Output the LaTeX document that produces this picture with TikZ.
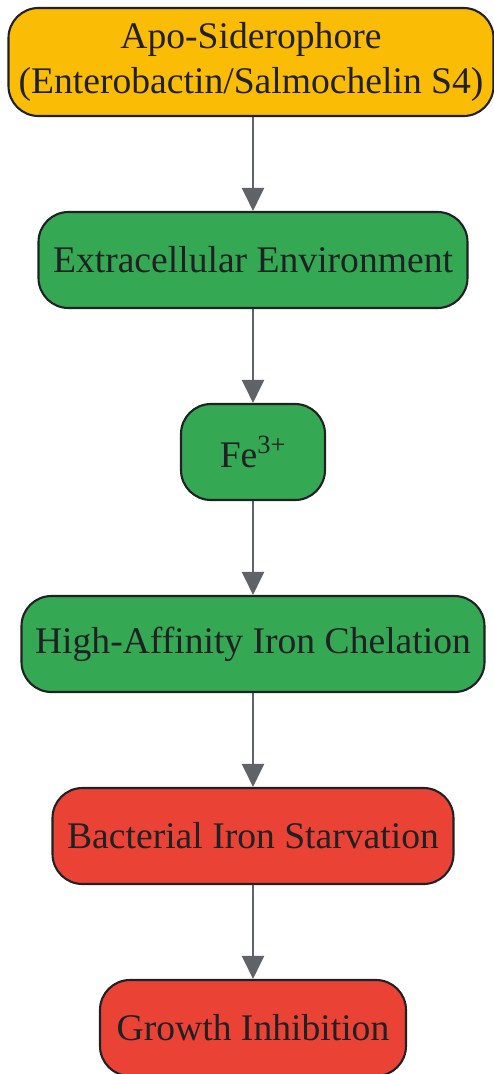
\documentclass[tikz,border=0pt]{standalone}
\usepackage{fontspec}
\setmainfont{Liberation Serif}
\usetikzlibrary{arrows.meta}
\definecolor{sideroyellow}{HTML}{FBBC05}
\definecolor{envgreen}{HTML}{34A853}
\definecolor{stressred}{HTML}{EA4335}
\definecolor{inkdark}{HTML}{202124}
\definecolor{flowgray}{HTML}{5F6368}
\tikzset{
  stage/.style={rectangle, rounded corners=0.6cm, draw=inkdark, line width=1.2pt, text=inkdark,
    align=center, inner sep=0pt, font=\fontsize{21.4}{25.5}\selectfont},
  flow/.style={-{Triangle[width=0.44cm,length=0.46cm]}, draw=flowgray, fill=flowgray, line width=1.2pt}
}
\begin{document}
\begin{tikzpicture}
  \useasboundingbox (0, 0) rectangle (9.88, -21.48);
  % Nodes
  \node (apo) [stage, fill=sideroyellow, minimum width=9.7cm, minimum height=2.16cm] at (5.02, -1.24) {Apo-Siderophore\\(Enterobactin/Salmochelin S4)};
  \node (env) [stage, fill=envgreen, minimum width=8.58cm, minimum height=1.92cm] at (5.06, -5.2) {Extracellular Environment};
  \node (fe) [stage, fill=envgreen, minimum width=2.88cm, minimum height=1.92cm] at (5.06, -9.04) {Fe\textsuperscript{3+}};
  \node (chel) [stage, fill=envgreen, minimum width=9.26cm, minimum height=1.92cm] at (5.06, -12.88) {High-Affinity Iron Chelation};
  \node (starv) [stage, fill=stressred, minimum width=8.02cm, minimum height=1.92cm] at (5.06, -16.72) {Bacterial Iron Starvation};
  \node (inhib) [stage, fill=stressred, minimum width=6.12cm, minimum height=1.92cm] at (5.06, -20.56) {Growth Inhibition};
  % Arrows
  \draw[flow] (apo.south -| env.north) -- (env.north);
  \draw[flow] (env) -- (fe);
  \draw[flow] (fe) -- (chel);
  \draw[flow] (chel) -- (starv);
  \draw[flow] (starv) -- (inhib);
\end{tikzpicture}
\end{document}
